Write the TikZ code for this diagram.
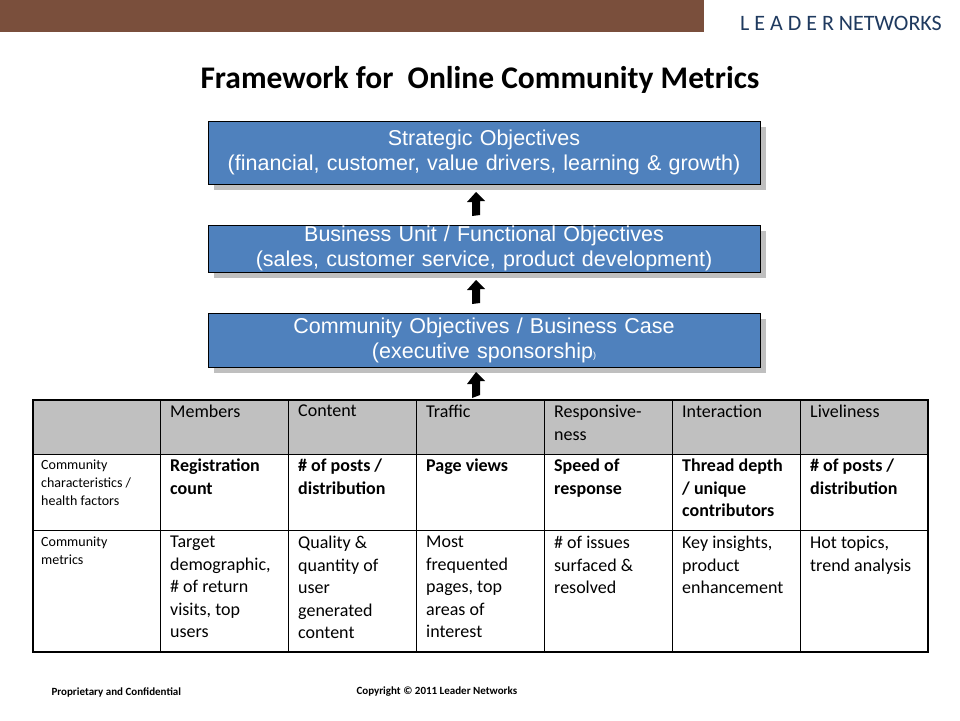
\documentclass[tikz,border=0pt]{standalone}
\usepackage{fontspec}
\setmainfont{Carlito}
\newfontfamily\arialf{Liberation Sans}
\definecolor{brownbar}{HTML}{7A4F3C}
\definecolor{boxblue}{HTML}{4F81BD}
\definecolor{hdrgray}{HTML}{C0C0C0}
\definecolor{navy}{HTML}{1F3A5F}
\tikzset{
  objbox/.style={draw=black,fill=boxblue,minimum width=552pt,text width=552pt,align=center,inner sep=0pt,font=\arialf\fontsize{21.5}{25}\selectfont,text=white},
  objshadow/.style={fill=black!25,draw=none},
  cell/.style={anchor=north west,text width=124pt,align=flush left,inner sep=0pt,font=\fontsize{18}{22.5}\selectfont},
  bcell/.style={cell,font=\bfseries\fontsize{18}{22.5}\selectfont},
  scell/.style={anchor=north west,text width=124pt,align=flush left,inner sep=0pt,font=\fontsize{14}{18}\selectfont},
  foot/.style={font=\bfseries\fontsize{11}{12}\selectfont,anchor=west}
}
\newcommand{\uparr}[3]{\coordinate (#1) at (476,#2);
  \fill[black] (#1) ++(-4,#3) -- ++(0,-14) -- ++(-5,0) -- (#1) -- ++(9,9) -- ++(-5,0) -- ++(0,14) -- cycle;}
\begin{document}
\begin{tikzpicture}[x=1pt,y=-1pt]
\useasboundingbox (0,0) rectangle (960,720);
\fill[white] (0,0) rectangle (960,720);
\fill[brownbar] (0,0) rectangle (704,32);
\node[anchor=east,text=navy,font=\fontsize{22}{23}\selectfont,inner sep=0pt] (logo) at (942,23) {L E A D E R NETWORKS};
\node[font=\bfseries\fontsize{31.5}{33}\selectfont] (title) at (480,80) {Framework for\ \ Online Community Metrics};
\fill[objshadow] (214,127) rectangle (766,190);
\fill[objshadow] (214,231) rectangle (766,278);
\fill[objshadow] (214,319) rectangle (766,373);
\node[objbox,minimum height=63pt] (strat) at (484,152.5) {Strategic Objectives\\(financial, customer, value drivers, learning \& growth)};
\node[objbox,minimum height=47pt] (bu) at (484,248.5) {Business Unit / Functional Objectives\\(sales, customer service, product development)};
\node[objbox,minimum height=54pt] (comm) at (484,340) {Community Objectives / Business Case\\(executive sponsorship{\small)}};
\uparr{a1}{192}{24}
\uparr{a2}{280}{24}
\uparr{a3}{372}{26}
\fill[hdrgray] (33,400) rectangle (928,454);
\draw[line width=0.8pt] (33,454) -- (928,454) (33,530) -- (928,530);
\foreach \x in {160,288,416,544,672,800} \draw[line width=0.8pt] (\x,400) -- (\x,652);
\draw[line width=2pt] (33,400) rectangle (928,652);
\node[cell] (h1) at (170,405) {Members};
\node[cell] (h2) at (298,405) {Content};
\node[cell] (h3) at (426,405) {Traffic};
\node[cell] (h4) at (554,405) {Responsive-\\ness};
\node[cell] (h5) at (682,405) {Interaction};
\node[cell] (h6) at (810,405) {Liveliness};
\node[scell] (r1) at (41,460) {Community\\characteristics /\\health factors};
\node[bcell] (c11) at (170,459) {Registration\\count};
\node[bcell] (c12) at (298,459) {\# of posts /\\distribution};
\node[bcell] (c13) at (426,459) {Page views};
\node[bcell] (c14) at (554,459) {Speed of\\response};
\node[bcell] (c15) at (682,459) {Thread depth\\/ unique\\contributors};
\node[bcell] (c16) at (810,459) {\# of posts /\\distribution};
\node[scell] (r2) at (41,537) {Community\\metrics};
\node[cell] (c21) at (170,536) {Target\\demographic,\\\# of return\\visits, top\\users};
\node[cell] (c22) at (298,536) {Quality \&\\quantity of\\user\\generated\\content};
\node[cell] (c23) at (426,536) {Most\\frequented\\pages, top\\areas of\\interest};
\node[cell] (c24) at (554,536) {\# of issues\\surfaced \&\\resolved};
\node[cell] (c25) at (682,536) {Key insights,\\product\\enhancement};
\node[cell] (c26) at (810,536) {Hot topics,\\trend analysis};
\node[foot] (f1) at (48,692) {Proprietary and Confidential};
\node[foot] (f2) at (353,692) {Copyright © 2011 Leader Networks};
\end{tikzpicture}
\end{document}
